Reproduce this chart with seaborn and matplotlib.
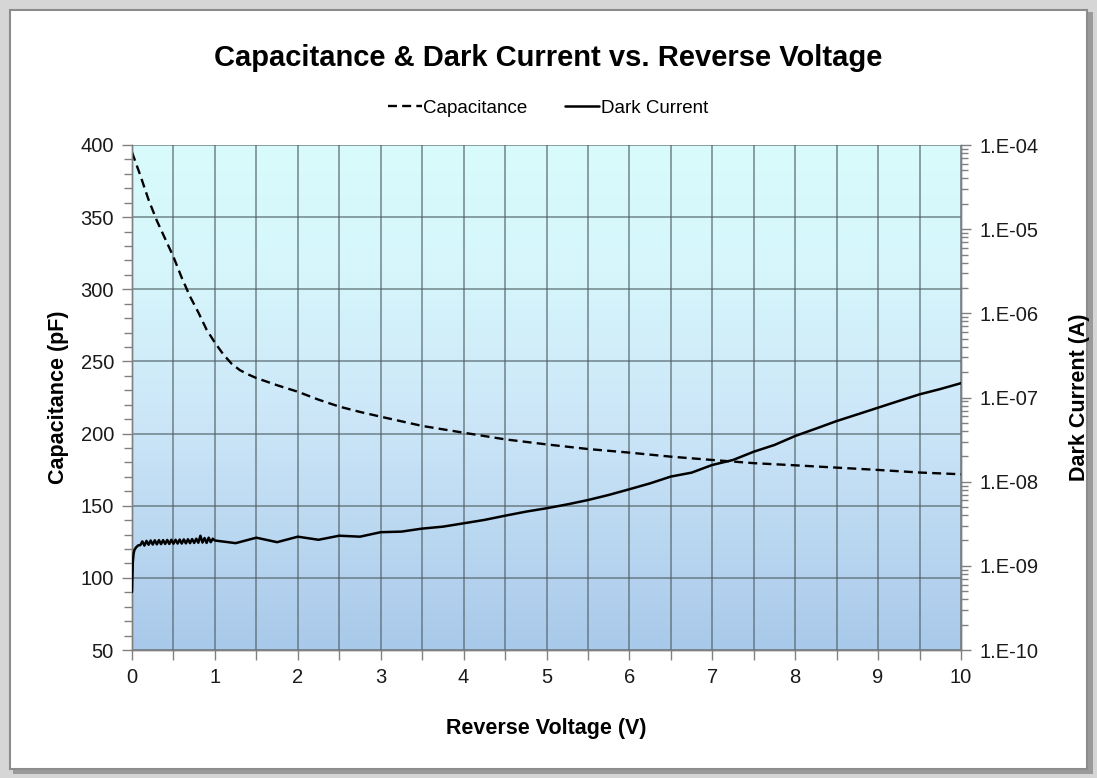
import numpy as np
import pandas as pd
import matplotlib
matplotlib.use("Agg")
import matplotlib.pyplot as plt
import seaborn as sns
from matplotlib.colors import LinearSegmentedColormap
from matplotlib.patches import Rectangle
from matplotlib.ticker import MultipleLocator, LogLocator, FuncFormatter, NullFormatter

#%% data
cap_voltage = [0.0, 0.1, 0.2, 0.3, 0.4, 0.5, 0.6, 0.7, 0.8, 0.9, 1.0, 1.1, 1.2, 1.3, 1.4,
               1.5, 1.75, 2.0, 2.25, 2.5, 2.75, 3.0, 3.5, 4.0, 4.5, 5.0, 5.5, 6.0, 6.5,
               7.0, 7.5, 8.0, 8.5, 9.0, 9.5, 10.0]
capacitance = [395, 379, 362, 347.5, 335, 322.5, 308, 295, 284, 272, 263, 255, 248.5, 244, 241,
               238.5, 233.5, 229, 223.5, 218.7, 215, 211.7, 205.3, 200.6, 196, 192.5, 189.3, 186.8, 184,
               181.7, 179.5, 178, 176.4, 174.8, 173, 171.8]

dc_voltage = [0.0, 0.01, 0.02, 0.03, 0.05, 0.075,
              0.1, 0.125, 0.15, 0.175, 0.2, 0.225, 0.25, 0.275, 0.3, 0.325, 0.35, 0.375,
              0.4, 0.425, 0.45, 0.475, 0.5, 0.525, 0.55, 0.575, 0.6, 0.625, 0.65, 0.675,
              0.7, 0.725, 0.75, 0.775, 0.8, 0.825, 0.85, 0.875, 0.9, 0.925, 0.95, 0.975,
              1.0, 1.25, 1.5, 1.75, 2.0, 2.25, 2.5, 2.75, 3.0, 3.25, 3.5, 3.75, 4.0,
              4.25, 4.5, 4.75, 5.0, 5.25, 5.5, 5.75, 6.0, 6.25, 6.5, 6.75, 7.0, 7.25,
              7.5, 7.75, 8.0, 8.25, 8.5, 8.75, 9.0, 9.25, 9.5, 9.75, 10.0]
dark_current = [4.9e-10, 1.12e-9, 1.41e-9, 1.55e-9, 1.66e-9, 1.75e-9,
                1.76e-9, 1.95e-9, 1.74e-9, 1.98e-9, 1.78e-9, 2.00e-9, 1.79e-9, 2.01e-9, 1.80e-9, 2.02e-9, 1.81e-9, 2.02e-9,
                1.82e-9, 2.03e-9, 1.82e-9, 2.04e-9, 1.83e-9, 2.04e-9, 1.84e-9, 2.05e-9, 1.84e-9, 2.06e-9, 1.85e-9, 2.07e-9,
                1.86e-9, 2.08e-9, 1.87e-9, 2.10e-9, 1.88e-9, 2.28e-9, 1.89e-9, 2.14e-9, 1.87e-9, 2.16e-9, 1.91e-9, 2.10e-9,
                2.0e-9, 1.86e-9, 2.16e-9, 1.91e-9, 2.22e-9, 2.04e-9, 2.28e-9, 2.22e-9, 2.51e-9, 2.55e-9, 2.77e-9, 2.92e-9, 3.2e-9,
                3.51e-9, 3.94e-9, 4.4e-9, 4.83e-9, 5.37e-9, 6.05e-9, 6.95e-9, 8.13e-9, 9.55e-9, 1.15e-8, 1.28e-8, 1.58e-8, 1.81e-8,
                2.27e-8, 2.73e-8, 3.49e-8, 4.27e-8, 5.25e-8, 6.3e-8, 7.57e-8, 9.1e-8, 1.09e-7, 1.26e-7, 1.48e-7]

cap_df = pd.DataFrame({'voltage': cap_voltage, 'capacitance': capacitance})
dc_df = pd.DataFrame({'voltage': dc_voltage, 'current': dark_current})

#%% style
sns.set_theme(style='ticks')
plt.rcParams['font.family'] = ['Liberation Sans', 'DejaVu Sans']
plt.rcParams['text.color'] = 'black'

fig = plt.figure(figsize=(10.97, 7.78), dpi=100)
fig.patch.set_facecolor('#d6d6d6')
W, H = 1097, 778
# white card with a grey edge and a little shadow
fig.patches.append(Rectangle((13 / W, 4 / H), 1080 / W, 762 / H, transform=fig.transFigure,
                             facecolor='#9a9a9a', edgecolor='none', zorder=-3))
fig.patches.append(Rectangle((10 / W, 9 / H), 1077 / W, 759 / H, transform=fig.transFigure,
                             facecolor='white', edgecolor='#8c8c8c', linewidth=1.5, zorder=-2))

ax = fig.add_axes([132 / W, 1 - 650 / H, 829 / W, 505 / H])
ax.patch.set_alpha(0)

# gradient background of the plot area
grad_cmap = LinearSegmentedColormap.from_list(
    'bg', [(0.0, '#a9c9ea'), (0.45, '#cce6f8'), (0.75, '#d6f6fb'), (1.0, '#d9fbfc')])
grad = np.linspace(0, 1, 256).reshape(-1, 1)
ax.imshow(grad, cmap=grad_cmap, aspect='auto', origin='lower', extent=[0, 1, 0, 1],
          transform=ax.transAxes, zorder=0)

sns.lineplot(data=cap_df, x='voltage', y='capacitance', ax=ax, color='black', linewidth=1.7,
             linestyle=(0, (3.8, 2.2)), label='Capacitance', legend=False, zorder=3)
ax.set_xlim(0, 10)
ax.set_ylim(50, 400)

ax2 = ax.twinx()
sns.lineplot(data=dc_df, x='voltage', y='current', ax=ax2, color='black', linewidth=1.8,
             label='Dark Current', legend=False, zorder=3, sort=False)
ax2.set_yscale('log')
ax2.set_ylim(1e-10, 1e-4)
ax2.set_xlim(0, 10)

# grid
ax.set_axisbelow(True)
ax.xaxis.set_major_locator(MultipleLocator(1))
ax.xaxis.set_minor_locator(MultipleLocator(0.5))
ax.yaxis.set_major_locator(MultipleLocator(50))
ax.yaxis.set_minor_locator(MultipleLocator(10))
ax.grid(which='major', axis='both', color='#4f5f63', linewidth=1.1, alpha=0.75)
ax.grid(which='minor', axis='x', color='#4f5f63', linewidth=1.1, alpha=0.75)
for gl in ax.get_xgridlines() + ax.get_ygridlines():
    gl.set_zorder(1)

spine_col = '#808080'
for a in (ax, ax2):
    a.spines['top'].set_visible(False)
    for s in ('left', 'right', 'bottom'):
        a.spines[s].set_color(spine_col)
        a.spines[s].set_linewidth(1.0)
ax.tick_params(axis='both', which='both', direction='out', color=spine_col, width=1.0,
               labelsize=14.5, labelcolor='#1a1a1a')
ax.tick_params(axis='both', which='major', length=7, pad=6)
ax.tick_params(axis='y', which='minor', length=6)
ax.tick_params(axis='x', which='minor', length=7)

ax2.yaxis.set_major_locator(LogLocator(base=10, numticks=10))
ax2.yaxis.set_minor_locator(LogLocator(base=10, subs=np.arange(2, 10), numticks=20))
ax2.yaxis.set_major_formatter(FuncFormatter(lambda v, p: '1.E%03d' % int(round(np.log10(v)))))
ax2.yaxis.set_minor_formatter(NullFormatter())
ax2.tick_params(axis='y', which='major', direction='out', length=7, width=1.0, color=spine_col,
                labelsize=14.5, pad=6, labelcolor='#1a1a1a')
ax2.tick_params(axis='y', which='minor', direction='out', length=5, width=1.0, color=spine_col)

ax.set_xlabel('Reverse Voltage (V)', fontsize=15.5, fontweight='bold', labelpad=22, color='black')
ax.set_ylabel('Capacitance (pF)', fontsize=15.5, fontweight='bold', labelpad=8, color='black')
ax2.set_ylabel('Dark Current (A)', fontsize=15.5, fontweight='bold', labelpad=22, color='black')

fig.text(548 / W, 1 - 58 / H, 'Capacitance & Dark Current vs. Reverse Voltage',
         ha='center', va='center', fontsize=21, fontweight='bold', color='black')

h1, l1 = ax.get_legend_handles_labels()
h2, l2 = ax2.get_legend_handles_labels()
fig.legend(h1 + h2, l1 + l2, loc='center', bbox_to_anchor=(548 / W, 1 - 108 / H), ncol=2,
           frameon=False, fontsize=13.5, handlelength=1.8, handletextpad=0.1, columnspacing=2.0)

fig.savefig('out.png', dpi=100, facecolor=fig.get_facecolor())
